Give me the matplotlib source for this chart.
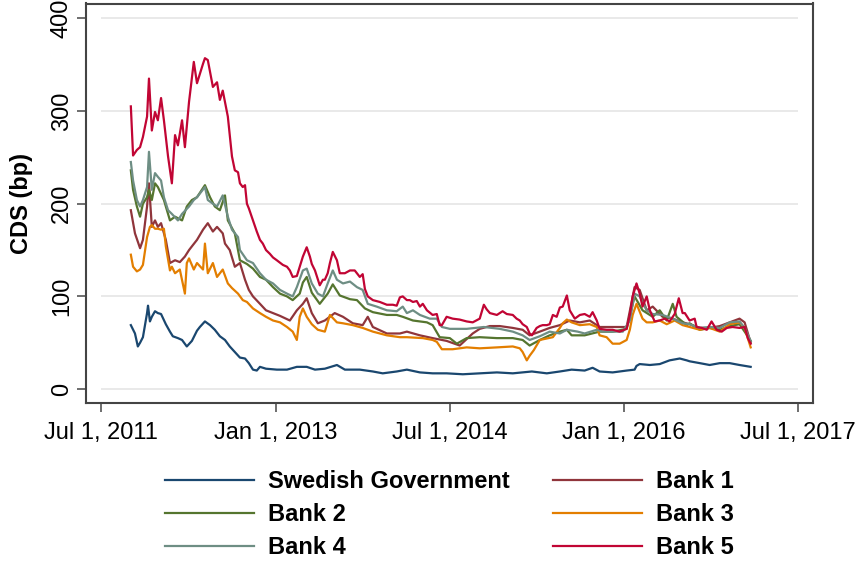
import matplotlib
matplotlib.use("Agg")
import matplotlib.pyplot as plt
import pandas as pd

plt.rcParams['font.family'] = ['Liberation Sans', 'DejaVu Sans']

# ---------------- data ----------------
gov = [("2011-10-03", 69), ("2011-10-16", 60), ("2011-10-25", 46), ("2011-11-01", 50), ("2011-11-10", 56),
       ("2011-11-23", 82), ("2011-11-26", 90), ("2011-12-02", 73), ("2011-12-08", 78), ("2011-12-18", 84),
       ("2011-12-27", 82), ("2012-01-06", 81), ("2012-01-21", 70), ("2012-02-03", 62), ("2012-02-12", 57),
       ("2012-02-28", 55), ("2012-03-12", 53), ("2012-03-27", 46), ("2012-04-12", 52), ("2012-04-28", 63),
       ("2012-05-07", 67), ("2012-05-23", 73), ("2012-06-08", 69), ("2012-06-23", 64), ("2012-07-09", 57),
       ("2012-07-25", 53), ("2012-08-09", 46), ("2012-08-25", 40), ("2012-09-10", 34), ("2012-09-26", 33),
       ("2012-10-08", 28), ("2012-10-21", 21), ("2012-11-02", 20), ("2012-11-12", 24), ("2012-12-01", 22),
       ("2013-01-04", 21), ("2013-02-05", 21), ("2013-03-08", 24), ("2013-04-08", 24), ("2013-05-04", 21),
       ("2013-06-04", 22), ("2013-07-12", 26), ("2013-08-06", 21), ("2013-09-22", 21), ("2013-11-02", 19),
       ("2013-12-03", 17), ("2014-01-16", 19), ("2014-02-17", 21), ("2014-03-30", 18), ("2014-05-09", 17),
       ("2014-06-22", 17), ("2014-08-12", 16), ("2014-10-04", 17), ("2014-11-27", 18), ("2015-01-16", 17),
       ("2015-03-17", 19), ("2015-05-03", 17), ("2015-06-13", 19), ("2015-07-20", 21), ("2015-08-30", 20),
       ("2015-09-24", 23), ("2015-10-16", 19), ("2015-11-26", 18), ("2016-01-09", 20), ("2016-02-03", 21),
       ("2016-02-09", 25), ("2016-02-19", 27), ("2016-03-22", 26), ("2016-04-22", 27), ("2016-05-23", 31),
       ("2016-06-24", 33), ("2016-07-16", 31), ("2016-07-25", 30), ("2016-08-26", 28), ("2016-09-26", 26),
       ("2016-10-28", 28), ("2016-11-28", 28), ("2016-12-29", 26), ("2017-02-02", 24)]

bank1 = [("2011-10-03", 193), ("2011-10-16", 168), ("2011-11-01", 152), ("2011-11-10", 161), ("2011-11-23", 197),
         ("2011-11-29", 222), ("2011-12-08", 175), ("2011-12-18", 182), ("2011-12-27", 175), ("2012-01-06", 179),
         ("2012-01-21", 161), ("2012-02-03", 136), ("2012-02-19", 139), ("2012-03-05", 137), ("2012-03-21", 143),
         ("2012-04-03", 150), ("2012-04-12", 154), ("2012-04-28", 161), ("2012-05-17", 172), ("2012-06-01", 179),
         ("2012-06-17", 170), ("2012-06-30", 175), ("2012-07-18", 168), ("2012-07-25", 157), ("2012-08-09", 150),
         ("2012-08-25", 132), ("2012-09-10", 136), ("2012-09-26", 118), ("2012-10-08", 107), ("2012-10-21", 100),
         ("2012-11-12", 92), ("2012-12-01", 85), ("2012-12-23", 82), ("2013-01-14", 79), ("2013-02-14", 74),
         ("2013-03-08", 85), ("2013-03-27", 92), ("2013-04-08", 98), ("2013-04-24", 82), ("2013-05-13", 71),
         ("2013-06-04", 74), ("2013-07-05", 82), ("2013-07-31", 78), ("2013-08-31", 71), ("2013-10-01", 69),
         ("2013-10-17", 78), ("2013-11-02", 67), ("2013-12-16", 60), ("2014-01-26", 60), ("2014-02-17", 62),
         ("2014-03-30", 58), ("2014-05-09", 55), ("2014-06-22", 52), ("2014-08-02", 47), ("2014-09-12", 60),
         ("2014-10-04", 65), ("2014-11-05", 68), ("2014-12-06", 68), ("2015-01-16", 66), ("2015-02-16", 64),
         ("2015-03-10", 58), ("2015-04-11", 62), ("2015-05-12", 66), ("2015-06-13", 69), ("2015-07-14", 74),
         ("2015-08-15", 72), ("2015-09-15", 74), ("2015-10-16", 67), ("2015-11-26", 67), ("2016-01-09", 67),
         ("2016-02-03", 110), ("2016-02-19", 107), ("2016-03-12", 85), ("2016-03-31", 89), ("2016-05-01", 78),
         ("2016-06-02", 76), ("2016-07-03", 72), ("2016-07-25", 70), ("2016-08-26", 66), ("2016-09-26", 66),
         ("2016-10-28", 68), ("2016-11-28", 72), ("2016-12-29", 76), ("2017-01-14", 72), ("2017-02-02", 50)]

bank2 = [("2011-10-03", 236), ("2011-10-10", 215), ("2011-10-22", 197), ("2011-11-01", 186), ("2011-11-10", 200),
         ("2011-11-23", 207), ("2011-11-29", 215), ("2011-12-08", 204), ("2011-12-18", 222), ("2011-12-27", 218),
         ("2012-01-15", 204), ("2012-02-03", 182), ("2012-02-19", 186), ("2012-03-12", 182), ("2012-03-27", 197),
         ("2012-04-12", 204), ("2012-04-28", 207), ("2012-05-23", 220), ("2012-06-08", 207), ("2012-06-23", 197),
         ("2012-07-09", 193), ("2012-07-25", 209), ("2012-08-03", 182), ("2012-08-25", 168), ("2012-09-10", 139),
         ("2012-10-02", 135), ("2012-10-21", 130), ("2012-11-12", 121), ("2012-12-01", 118), ("2012-12-23", 110),
         ("2013-01-14", 103), ("2013-02-05", 100), ("2013-02-23", 96), ("2013-03-17", 103), ("2013-03-27", 115),
         ("2013-04-08", 121), ("2013-04-24", 104), ("2013-05-19", 92), ("2013-06-13", 103), ("2013-06-29", 113),
         ("2013-07-21", 101), ("2013-08-22", 97), ("2013-09-13", 96), ("2013-10-08", 87), ("2013-11-02", 83),
         ("2013-12-16", 80), ("2014-01-16", 80), ("2014-02-04", 78), ("2014-03-08", 74), ("2014-04-21", 72),
         ("2014-05-09", 69), ("2014-05-31", 56), ("2014-07-02", 55), ("2014-07-24", 49), ("2014-08-24", 55),
         ("2014-10-04", 56), ("2014-11-27", 55), ("2015-01-16", 55), ("2015-02-16", 53), ("2015-03-10", 47),
         ("2015-04-11", 53), ("2015-05-12", 58), ("2015-06-13", 62), ("2015-07-05", 64), ("2015-07-20", 58),
         ("2015-08-30", 58), ("2015-10-16", 62), ("2015-11-26", 62), ("2016-01-09", 65), ("2016-02-03", 100),
         ("2016-02-28", 85), ("2016-03-31", 78), ("2016-04-22", 85), ("2016-05-14", 74), ("2016-06-02", 92),
         ("2016-06-14", 78), ("2016-07-16", 69), ("2016-07-25", 71), ("2016-08-26", 64), ("2016-09-26", 66),
         ("2016-10-28", 64), ("2016-11-28", 68), ("2016-12-29", 70), ("2017-01-14", 62), ("2017-02-02", 52)]

bank3 = [("2011-10-03", 145), ("2011-10-10", 132), ("2011-10-22", 127), ("2011-11-01", 129), ("2011-11-10", 134),
         ("2011-11-23", 164), ("2011-12-02", 175), ("2011-12-08", 177), ("2011-12-18", 173), ("2011-12-27", 173),
         ("2012-01-06", 172), ("2012-01-15", 173), ("2012-01-21", 154), ("2012-02-03", 128), ("2012-02-09", 132),
         ("2012-02-19", 125), ("2012-03-05", 129), ("2012-03-21", 103), ("2012-03-27", 136), ("2012-04-03", 141),
         ("2012-04-18", 129), ("2012-04-28", 136), ("2012-05-17", 129), ("2012-05-23", 157), ("2012-06-01", 125),
         ("2012-06-17", 136), ("2012-06-30", 121), ("2012-07-18", 129), ("2012-08-03", 114), ("2012-08-16", 109),
         ("2012-09-04", 103), ("2012-09-19", 96), ("2012-10-02", 94), ("2012-10-21", 87), ("2012-11-12", 82),
         ("2012-12-01", 78), ("2012-12-23", 74), ("2013-01-14", 72), ("2013-02-05", 67), ("2013-02-23", 62),
         ("2013-03-08", 53), ("2013-03-17", 78), ("2013-03-27", 87), ("2013-04-08", 78), ("2013-04-24", 70),
         ("2013-05-13", 64), ("2013-06-04", 62), ("2013-06-20", 80), ("2013-07-12", 72), ("2013-07-31", 71),
         ("2013-08-31", 69), ("2013-10-01", 66), ("2013-11-02", 62), ("2013-12-16", 58), ("2014-01-26", 56),
         ("2014-02-17", 56), ("2014-04-08", 55), ("2014-05-09", 53), ("2014-05-22", 51), ("2014-06-07", 43),
         ("2014-07-11", 43), ("2014-08-24", 45), ("2014-10-04", 44), ("2014-11-27", 45), ("2015-01-16", 46),
         ("2015-02-07", 44), ("2015-02-16", 40), ("2015-03-01", 31), ("2015-03-10", 36), ("2015-03-23", 42),
         ("2015-04-11", 53), ("2015-05-22", 56), ("2015-06-13", 66), ("2015-06-22", 71), ("2015-07-05", 75),
         ("2015-07-20", 72), ("2015-08-15", 69), ("2015-09-15", 70), ("2015-10-07", 67), ("2015-10-16", 58),
         ("2015-11-07", 56), ("2015-11-26", 49), ("2015-12-18", 49), ("2016-01-09", 53), ("2016-01-19", 64),
         ("2016-01-28", 80), ("2016-02-09", 92), ("2016-02-28", 76), ("2016-03-12", 72), ("2016-03-31", 72),
         ("2016-04-22", 74), ("2016-05-14", 70), ("2016-06-08", 74), ("2016-07-03", 69), ("2016-07-25", 67),
         ("2016-08-26", 64), ("2016-09-26", 66), ("2016-10-28", 62), ("2016-11-28", 70), ("2016-12-29", 72),
         ("2017-01-14", 66), ("2017-02-02", 45)]

bank4 = [("2011-10-03", 245), ("2011-10-10", 225), ("2011-10-22", 204), ("2011-11-01", 197), ("2011-11-10", 204),
         ("2011-11-23", 218), ("2011-11-29", 256), ("2011-12-08", 215), ("2011-12-18", 233), ("2011-12-27", 229),
         ("2012-01-06", 225), ("2012-01-15", 207), ("2012-01-28", 193), ("2012-02-09", 189), ("2012-02-28", 182),
         ("2012-03-12", 189), ("2012-04-03", 197), ("2012-04-18", 204), ("2012-04-28", 207), ("2012-05-23", 218),
         ("2012-06-01", 204), ("2012-06-17", 200), ("2012-06-30", 197), ("2012-07-18", 209), ("2012-08-03", 186),
         ("2012-08-16", 172), ("2012-09-04", 164), ("2012-09-10", 150), ("2012-10-02", 139), ("2012-10-21", 136),
         ("2012-11-12", 125), ("2012-12-01", 118), ("2012-12-23", 114), ("2013-01-14", 107), ("2013-02-05", 103),
         ("2013-02-23", 100), ("2013-03-08", 110), ("2013-03-27", 128), ("2013-04-08", 130), ("2013-04-24", 114),
         ("2013-05-13", 103), ("2013-05-29", 100), ("2013-06-13", 114), ("2013-06-29", 128), ("2013-07-12", 118),
         ("2013-07-31", 114), ("2013-08-22", 116), ("2013-09-13", 110), ("2013-10-01", 107), ("2013-10-17", 92),
         ("2013-11-14", 89), ("2013-12-16", 85), ("2014-01-16", 84), ("2014-02-04", 89), ("2014-02-17", 82),
         ("2014-03-08", 85), ("2014-03-30", 80), ("2014-04-30", 76), ("2014-05-22", 76), ("2014-06-07", 67),
         ("2014-07-02", 65), ("2014-08-24", 65), ("2014-10-17", 67), ("2014-12-06", 65), ("2015-01-16", 62),
         ("2015-02-16", 58), ("2015-03-10", 53), ("2015-04-11", 57), ("2015-05-12", 62), ("2015-06-13", 60),
         ("2015-07-05", 64), ("2015-08-08", 62), ("2015-08-30", 60), ("2015-10-07", 64), ("2015-10-26", 62),
         ("2015-11-26", 62), ("2015-12-28", 62), ("2016-01-19", 74), ("2016-02-03", 103), ("2016-02-19", 100),
         ("2016-03-12", 85), ("2016-03-31", 81), ("2016-05-01", 80), ("2016-06-02", 76), ("2016-07-03", 71),
         ("2016-07-25", 70), ("2016-08-26", 66), ("2016-09-26", 67), ("2016-10-28", 66), ("2016-11-28", 72),
         ("2016-12-29", 73), ("2017-01-14", 66), ("2017-02-02", 52)]

bank5 = [("2011-10-03", 305), ("2011-10-10", 252), ("2011-10-22", 258), ("2011-11-01", 261), ("2011-11-10", 272),
         ("2011-11-23", 294), ("2011-11-29", 335), ("2011-12-08", 279), ("2011-12-18", 299), ("2011-12-27", 290),
         ("2012-01-06", 314), ("2012-01-15", 290), ("2012-01-28", 251), ("2012-02-09", 222), ("2012-02-19", 274),
         ("2012-02-28", 263), ("2012-03-12", 290), ("2012-03-21", 261), ("2012-04-03", 310), ("2012-04-18", 353),
         ("2012-04-28", 330), ("2012-05-17", 351), ("2012-05-23", 357), ("2012-06-01", 355), ("2012-06-17", 326),
         ("2012-06-30", 331), ("2012-07-09", 312), ("2012-07-18", 322), ("2012-08-03", 294), ("2012-08-16", 251),
         ("2012-08-25", 236), ("2012-09-04", 234), ("2012-09-10", 222), ("2012-09-19", 218), ("2012-09-26", 220),
         ("2012-10-02", 200), ("2012-10-08", 195), ("2012-10-21", 182), ("2012-11-02", 170), ("2012-11-12", 161),
         ("2012-11-21", 157), ("2012-12-01", 150), ("2012-12-13", 146), ("2012-12-23", 142), ("2013-01-04", 139),
         ("2013-01-23", 134), ("2013-02-05", 132), ("2013-02-14", 128), ("2013-02-23", 121), ("2013-03-08", 122),
         ("2013-03-17", 132), ("2013-03-27", 143), ("2013-04-08", 153), ("2013-04-18", 143), ("2013-04-24", 135),
         ("2013-05-04", 128), ("2013-05-19", 112), ("2013-05-29", 118), ("2013-06-04", 118), ("2013-06-13", 125),
         ("2013-06-20", 136), ("2013-06-29", 148), ("2013-07-12", 139), ("2013-07-21", 125), ("2013-08-06", 125),
         ("2013-08-22", 128), ("2013-09-06", 128), ("2013-09-22", 121), ("2013-10-01", 124), ("2013-10-08", 108),
         ("2013-10-17", 100), ("2013-11-02", 96), ("2013-11-24", 94), ("2013-12-16", 91), ("2014-01-04", 91),
         ("2014-01-16", 90), ("2014-01-26", 99), ("2014-02-04", 100), ("2014-02-17", 96), ("2014-02-26", 96),
         ("2014-03-08", 94), ("2014-03-20", 95), ("2014-03-30", 89), ("2014-04-08", 92), ("2014-04-21", 85),
         ("2014-05-09", 80), ("2014-05-22", 81), ("2014-05-31", 69), ("2014-06-07", 69), ("2014-06-22", 78),
         ("2014-07-11", 76), ("2014-08-02", 75), ("2014-08-24", 73), ("2014-09-12", 72), ("2014-10-04", 76),
         ("2014-10-17", 91), ("2014-10-26", 86), ("2014-11-05", 82), ("2014-11-27", 80), ("2014-12-15", 84),
         ("2014-12-28", 81), ("2015-01-16", 80), ("2015-01-28", 76), ("2015-02-07", 74), ("2015-02-16", 70),
         ("2015-03-01", 67), ("2015-03-10", 60), ("2015-03-17", 58), ("2015-04-01", 66), ("2015-04-11", 68),
         ("2015-04-20", 69), ("2015-05-03", 69), ("2015-05-12", 70), ("2015-05-22", 80), ("2015-06-03", 78),
         ("2015-06-13", 88), ("2015-06-22", 89), ("2015-07-05", 101), ("2015-07-14", 85), ("2015-07-30", 76),
         ("2015-08-15", 80), ("2015-08-30", 81), ("2015-09-15", 78), ("2015-09-24", 83), ("2015-10-07", 74),
         ("2015-10-16", 65), ("2015-11-07", 64), ("2015-11-26", 64), ("2015-12-18", 62), ("2016-01-09", 65),
         ("2016-01-19", 80), ("2016-01-28", 100), ("2016-02-09", 114), ("2016-02-19", 103), ("2016-02-28", 89),
         ("2016-03-12", 100), ("2016-03-22", 85), ("2016-04-06", 73), ("2016-04-22", 74), ("2016-05-08", 76),
         ("2016-05-23", 73), ("2016-06-08", 81), ("2016-06-21", 98), ("2016-07-03", 82), ("2016-07-10", 82),
         ("2016-07-25", 74), ("2016-08-10", 76), ("2016-08-16", 67), ("2016-09-01", 66), ("2016-09-17", 64),
         ("2016-10-02", 73), ("2016-10-18", 64), ("2016-11-03", 62), ("2016-11-19", 66), ("2016-12-07", 67),
         ("2016-12-29", 66), ("2017-01-14", 67), ("2017-01-24", 55), ("2017-02-02", 49)]

series_names = ["Swedish Government", "Bank 1", "Bank 2", "Bank 3", "Bank 4", "Bank 5"]
series_colors = ["#1a476f", "#90353b", "#55752f", "#e37e00", "#6e8e84", "#c10534"]

xtick_dates = ["2011-07-01", "2013-01-01", "2014-07-01", "2016-01-01", "2017-07-01"]
xtick_labels = ["Jul 1, 2011", "Jan 1, 2013", "Jul 1, 2014", "Jan 1, 2016", "Jul 1, 2017"]
ytick_values = [0, 100, 200, 300, 400]

# ---------------- figure ----------------
W, H = 858, 562
FS = 17
fig = plt.figure(figsize=(W / 100, H / 100), dpi=100)
fig.patch.set_facecolor("white")
ax = fig.add_axes([86 / W, 1 - 403 / H, (813 - 86) / W, (403 - 3.5) / H])

xt = pd.to_datetime(xtick_dates)
# horizontal grid between first and last date tick
ax.hlines(ytick_values, xt[0], xt[-1], colors="#e9e9e9", linewidth=1.4, zorder=0)

handles = []
for data, name, col in zip([gov, bank1, bank2, bank3, bank4, bank5], series_names, series_colors):
    d = pd.to_datetime([p[0] for p in data])
    v = [p[1] for p in data]
    ln, = ax.plot(d, v, color=col, linewidth=1.6, label=name, solid_joinstyle="round")
    handles.append(ln)

ax.set_xlim(pd.Timestamp("2011-05-15"), pd.Timestamp("2017-08-17"))
ax.set_ylim(-15, 416)

ax.set_xticks(xt)
ax.set_xticklabels(xtick_labels, fontsize=FS)
ax.set_yticks(ytick_values)
ax.set_yticklabels([str(v) for v in ytick_values], fontsize=FS, rotation=90, va="center")
ax.tick_params(axis="both", direction="out", length=6.5, width=1.2, color="#555555")
ax.tick_params(axis="x", pad=7)
ax.tick_params(axis="y", pad=3)
ax.set_ylabel("CDS (bp)", fontsize=FS, fontweight="bold", labelpad=13)

for s in ax.spines.values():
    s.set_color("#444444")
    s.set_linewidth(1.5)

order = [0, 2, 4, 1, 3, 5]
leg = fig.legend([handles[i] for i in order], [series_names[i] for i in order],
                 loc="upper left", bbox_to_anchor=(165 / W, 1 - 470 / H), ncol=2, frameon=False,
                 prop={"weight": "bold", "size": FS}, handlelength=3.77, handletextpad=0.6,
                 columnspacing=1.82, labelspacing=0.42, borderpad=0, borderaxespad=0)

fig.savefig("out.png", dpi=100, facecolor="white")
